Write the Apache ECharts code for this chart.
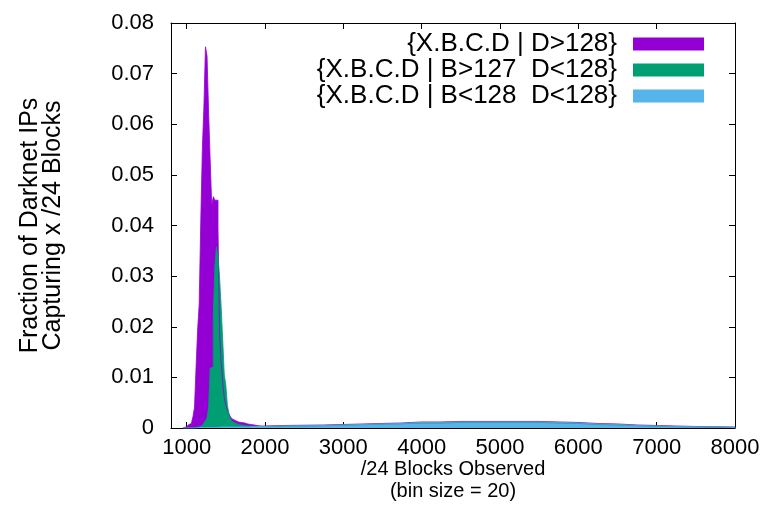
<!DOCTYPE html>
<html>
<head>
<meta charset="utf-8">
<script src="https://cdn.jsdelivr.net/npm/echarts@6/dist/echarts.min.js"></script>
<style>
  html, body { margin: 0; padding: 0; background: #fff; }
  #chart { width: 769px; height: 531px; }
</style>
</head>
<body>
<div id="chart"></div>
<script>
// histogram bins of 20 around the peak (first bin starts at 960)
const binSize = 20;
const peakStart = 960;
const purplePeak = [
  0.0001, 0.0002, 0.0004, 0.0006, 0.0009, 0.0012, 0.0022, 0.0041, 0.012, 0.0194,
  0.0245, 0.041, 0.055, 0.0634, 0.0753, 0.0735, 0.0624, 0.053, 0.044, 0.0457,
  0.045, 0.045, 0.0395, 0.0187, 0.013, 0.009, 0.006, 0.0045, 0.0035, 0.0028,
  0.0022, 0.0018, 0.0015, 0.0013, 0.0012, 0.0011, 0.0011, 0.001, 0.001, 0.0009,
  0.0008, 0.0007, 0.0007, 0.0006, 0.0006, 0.0005, 0.0005, 0.0005, 0.0004, 0.0004,
  0.0004, 0.0004
];
const greenPeak = [
  0, 0, 0, 0, 0, 0, 0.0001, 0.0001, 0.0002, 0.0002,
  0.0003, 0.0005, 0.0007, 0.001, 0.0014, 0.002, 0.004, 0.0118, 0.012, 0.0221,
  0.0318, 0.0358, 0.0338, 0.0298, 0.024, 0.0175, 0.0105, 0.0085, 0.0045, 0.0028,
  0.0018, 0.0013, 0.001, 0.0008, 0.0007, 0.0006, 0.0006, 0.0005, 0.0005, 0.0005,
  0.0004, 0.0004, 0.0004, 0.0004, 0.0003, 0.0003, 0.0003, 0.0003, 0.0003, 0.0003,
  0.0003, 0.0003
];
const bluePeak = [
  0, 0, 0, 0, 0, 0, 0, 0, 0.0001, 0.0001,
  0.0001, 0.0001, 0.0001, 0.0001, 0.0001, 0.0001, 0.0001, 0.0001, 0.0001, 0.0001,
  0.0001, 0.0001, 0.0001, 0.0002, 0.0002, 0.0002, 0.0002, 0.0002, 0.0002, 0.0002,
  0.0002, 0.0002, 0.0002, 0.0002, 0.0002, 0.0002, 0.0002, 0.0002, 0.0002, 0.0002,
  0.0002, 0.0002, 0.0003, 0.0003, 0.0003, 0.0003, 0.0003, 0.0003, 0.0003, 0.0003,
  0.0003, 0.0003
];

// the long flat tail, read every 250 blocks from 2000 on
const tailStart = 2000;
const tailStep = 250;
const purpleTail = [
  0.0005, 0.00055, 0.0006, 0.0007, 0.0008, 0.0009, 0.001, 0.0012, 0.0012, 0.0013,
  0.0013, 0.0013, 0.0013, 0.0013, 0.0012, 0.0011, 0.0009, 0.0008, 0.0006, 0.0005,
  0.0004, 0.0003, 0.00025, 0.0002
];
const greenTail = [
  0.00035, 0.0004, 0.00045, 0.00055, 0.00065, 0.00075, 0.00085, 0.001, 0.001, 0.0011,
  0.0011, 0.0011, 0.0011, 0.0011, 0.001, 0.0009, 0.0007, 0.0006, 0.00045, 0.00035,
  0.00025, 0.0002, 0.00015, 0.0001
];
const blueTail = [
  0.0004, 0.00045, 0.0005, 0.0006, 0.0007, 0.0008, 0.0009, 0.0011, 0.0011, 0.0012,
  0.0012, 0.0012, 0.0012, 0.0012, 0.0011, 0.001, 0.0008, 0.0007, 0.0005, 0.0004,
  0.0003, 0.00025, 0.0002, 0.00015
];

const seriesNames = [
  '{X.B.C.D | D>128}',
  '{X.B.C.D | B>127  D<128}',
  '{X.B.C.D | B<128  D<128}'
];
const colors = ['#9400d3', '#009e73', '#56b4e9'];
const xTicks = [1000, 2000, 3000, 4000, 5000, 6000, 7000, 8000];

// turn bins into step points: each point is the left edge of a bin
function toSteps(peak, tail) {
  const pts = [];
  peak.forEach((v, i) => pts.push([peakStart + i * binSize, v]));
  tail.forEach((v, i) => pts.push([tailStart + i * tailStep, v]));
  pts.push([tailStart + tail.length * tailStep, 0]);
  return pts;
}

const stepData = [
  toSteps(purplePeak, purpleTail),
  toSteps(greenPeak, greenTail),
  toSteps(bluePeak, blueTail)
];

const font = 'Liberation Sans, Arial, Helvetica, sans-serif';
const chart = echarts.init(document.getElementById('chart'));

const axisLine = { show: true, onZero: false, lineStyle: { color: '#000', width: 1 } };
const tick = { show: true, inside: true, length: 6, lineStyle: { color: '#000' } };

chart.setOption({
  animation: false,
  grid: { left: 171, right: 34, top: 23, bottom: 103 },
  legend: {
    orient: 'vertical',
    right: 65,
    top: 31,
    padding: 0,
    align: 'right',
    icon: 'rect',
    itemWidth: 71,
    itemHeight: 13,
    itemGap: 0,
    selectedMode: false,
    textStyle: { fontFamily: font, fontSize: 26, lineHeight: 25, color: '#000', padding: [0, 11, 0, 0] },
    data: seriesNames
  },
  xAxis: [
    {
      type: 'value', min: 800, max: 8000,
      axisLine: axisLine,
      axisTick: Object.assign({ customValues: xTicks }, tick),
      axisLabel: {
        customValues: xTicks, margin: 9, fontFamily: font, fontSize: 22, color: '#000',
        formatter: v => String(v)
      },
      splitLine: { show: false },
      name: '/24 Blocks Observed\n(bin size = 20)',
      nameLocation: 'middle',
      nameMoveOverlap: false,
      nameGap: 30,
      nameTextStyle: { fontFamily: font, fontSize: 20, color: '#000', lineHeight: 22 }
    },
    {
      type: 'value', min: 800, max: 8000, position: 'top',
      axisLine: axisLine,
      axisTick: Object.assign({ customValues: xTicks }, tick),
      axisLabel: { show: false },
      splitLine: { show: false }
    }
  ],
  yAxis: [
    {
      type: 'value', min: 0, max: 0.08, interval: 0.01,
      axisLine: axisLine,
      axisTick: tick,
      axisLabel: { margin: 17, fontFamily: font, fontSize: 22, color: '#000' },
      splitLine: { show: false },
      name: 'Fraction of Darknet IPs\nCapturing x /24 Blocks',
      nameLocation: 'middle',
      nameRotate: 90,
      nameGap: 106,
      nameTextStyle: { fontFamily: font, fontSize: 25, color: '#000', lineHeight: 23 }
    },
    {
      type: 'value', min: 0, max: 0.08, interval: 0.01, position: 'right',
      axisLine: axisLine,
      axisTick: tick,
      axisLabel: { show: false },
      splitLine: { show: false }
    }
  ],
  series: seriesNames.map((name, i) => ({
    name: name,
    type: 'line',
    step: 'end',
    symbol: 'none',
    color: colors[i],
    lineStyle: { width: 0.8, color: colors[i] },
    areaStyle: { color: colors[i], opacity: 1 },
    data: stepData[i]
  }))
});
</script>
</body>
</html>
